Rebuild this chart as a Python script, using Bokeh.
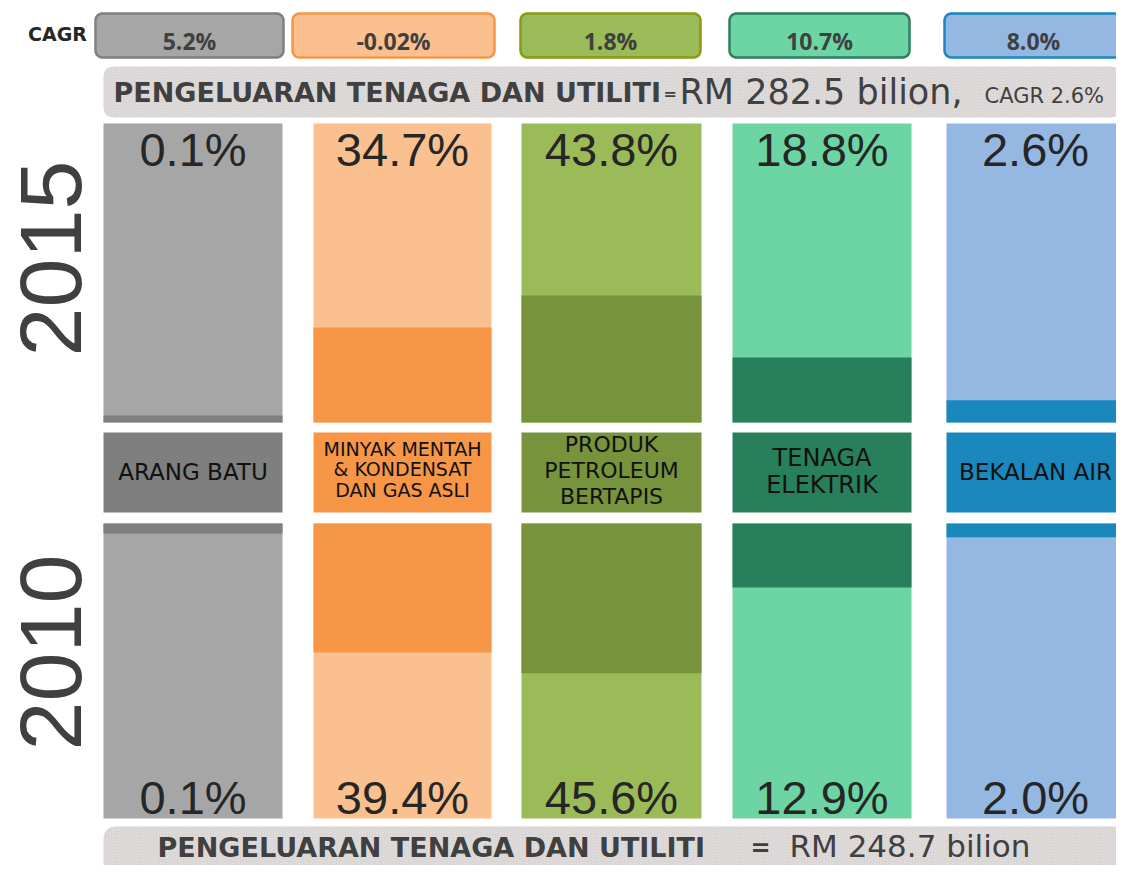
import numpy as np
from bokeh.plotting import figure
from bokeh.models import Range1d
from bokeh.core.properties import value
from bokeh.embed import file_html
from bokeh.resources import INLINE

# ---------------- data ----------------
categories = ["ARANG BATU", "MINYAK MENTAH\n& KONDENSAT\nDAN GAS ASLI",
              "PRODUK\nPETROLEUM\nBERTAPIS", "TENAGA\nELEKTRIK", "BEKALAN AIR"]
cagr = ["5.2%", "-0.02%", "1.8%", "10.7%", "8.0%"]
share_2015 = [0.1, 34.7, 43.8, 18.8, 2.6]
share_2010 = [0.1, 39.4, 45.6, 12.9, 2.0]
# dark-coloured portion of each bar, % of bar height as drawn in the picture
dark_2015 = [2.3, 31.8, 42.5, 21.7, 7.4]
dark_2010 = [3.4, 43.7, 50.8, 21.7, 4.7]
total_2015 = 282.5
total_2010 = 248.7
cagr_total = "2.6%"
years = ["2015", "2010"]
banner_label = "PENGELUARAN TENAGA DAN UTILITI"

# ---------------- styles / layout ----------------
light = ["#a6a6a6", "#fac090", "#9bbb59", "#6dd5a4", "#95b8e3"]
dark = ["#7f7f7f", "#f79646", "#77933c", "#287f5b", "#1a87bd"]
box_border = ["#7f7f7f", "#f79646", "#8a9a12", "#2d7f5c", "#1a86bf"]
left = [103, 313, 521, 732, 946]
right = [282, 491, 701, 911, 1124]
cagr_left = [95, 292, 520, 729, 944]
cagr_right = [283, 494, 700, 909, 1122]
cat_sizes = ["23px", "19px", "22px", "24px", "23px"]
cat_line_h = [1.1, 0.95, 1.05, 0.98, 1.1]
cat_y = [471, 469, 470, 471, 471]

TOP15, BOT15 = 123, 422
TOP10, BOT10 = 523, 818
CAT_TOP, CAT_BOT = 432, 512

p = figure(width=1116, height=865, x_range=Range1d(0, 1116), y_range=Range1d(865, 0),
           output_backend="svg", toolbar_location=None,
           x_axis_type=None, y_axis_type=None)
p.min_border = 0
p.min_border_left = p.min_border_right = p.min_border_top = p.min_border_bottom = 0
p.grid.visible = False
p.outline_line_color = None
p.background_fill_color = "white"
p.border_fill_color = "white"

DV = value("DejaVu Sans")


def rrect(x0, y0, x1, y1, r, n=10):
    xs, ys = [], []
    corners = [(x1 - r, y0 + r, -np.pi / 2, 0), (x1 - r, y1 - r, 0, np.pi / 2),
               (x0 + r, y1 - r, np.pi / 2, np.pi), (x0 + r, y0 + r, np.pi, 1.5 * np.pi)]
    for cx, cy, a0, a1 in corners:
        t = np.linspace(a0, a1, n)
        xs.extend(cx + r * np.cos(t))
        ys.extend(cy + r * np.sin(t))
    return list(xs), list(ys)


# ---- CAGR boxes ----
bx, by = [], []
for i in range(5):
    xx, yy = rrect(cagr_left[i], 13, cagr_right[i], 57, 7)
    bx.append(xx)
    by.append(yy)
p.patches(bx, by, fill_color=light, line_color=box_border, line_width=2.5)
cx = [(a + b) / 2 for a, b in zip(cagr_left, cagr_right)]
p.text(x=cx, y=[40] * 5, text=cagr, text_align="center", text_baseline="middle",
       text_font=value("Open Sans"), text_font_style="bold", text_font_size="23px",
       text_color="#404040")
p.text(x=[57], y=[33], text=["CAGR"], text_align="center", text_baseline="middle",
       text_font=DV, text_font_style="bold", text_font_size="19px",
       text_color="#262626")

# ---- banners ----
bxs, bys = [], []
xx, yy = rrect(103, 66, 1120, 117, 10)
bxs.append(xx); bys.append(yy)
xx, yy = rrect(103, 826, 1130, 900, 12)
bxs.append(xx); bys.append(yy)
p.patches(bxs, bys, fill_color="#d7d3d3", line_color=None,
          hatch_pattern="x", hatch_color="#e6e3e3", hatch_scale=3, hatch_weight=0.6)

p.text(x=[113], y=[92], text=[banner_label], text_align="left", text_baseline="middle",
       text_font=DV, text_font_style="bold", text_font_size="27px", text_color="#404040")
p.text(x=[663], y=[93], text=["="], text_align="left", text_baseline="middle",
       text_font=DV, text_font_style="bold", text_font_size="16px",
       text_color="#404040")
p.text(x=[679], y=[91], text=[f"RM {total_2015} bilion,"], text_align="left",
       text_baseline="middle", text_font=DV, text_font_size="35px",
       text_color="#404040")
p.text(x=[984], y=[95], text=[f"CAGR {cagr_total}"], text_align="left",
       text_baseline="middle", text_font=DV, text_font_size="21px",
       text_color="#404040")

p.text(x=[157], y=[847], text=[banner_label], text_align="left", text_baseline="middle",
       text_font=DV, text_font_style="bold", text_font_size="27px", text_color="#404040")
p.text(x=[750], y=[847], text=["="], text_align="left", text_baseline="middle",
       text_font=DV, text_font_style="bold", text_font_size="24px",
       text_color="#404040")
p.text(x=[789], y=[845], text=[f"RM {total_2010} bilion"], text_align="left",
       text_baseline="middle", text_font=DV, text_font_size="31px",
       text_color="#404040")

# ---- 2015 bars ----
h15 = BOT15 - TOP15
d15_top = [BOT15 - d / 100 * h15 for d in dark_2015]
p.quad(left=left, right=right, top=[TOP15] * 5, bottom=[BOT15] * 5,
       fill_color=light, line_color=None)
p.quad(left=left, right=right, top=d15_top, bottom=[BOT15] * 5,
       fill_color=dark, line_color=None)

# ---- 2010 bars ----
h10 = BOT10 - TOP10
d10_bot = [TOP10 + d / 100 * h10 for d in dark_2010]
p.quad(left=left, right=right, top=[TOP10] * 5, bottom=[BOT10] * 5,
       fill_color=light, line_color=None)
p.quad(left=left, right=right, top=[TOP10] * 5, bottom=d10_bot,
       fill_color=dark, line_color=None)

# ---- category boxes ----
p.quad(left=left, right=right, top=[CAT_TOP] * 5, bottom=[CAT_BOT] * 5,
       fill_color=dark, line_color=None)
mid = [(a + b) / 2 for a, b in zip(left, right)]
for i in range(5):
    p.text(x=[mid[i]], y=[cat_y[i]], text=[categories[i]], text_align="center",
           text_baseline="middle", text_font=DV, text_font_size=cat_sizes[i],
           text_line_height=cat_line_h[i], text_color="#111111")

# ---- share labels ----
p.text(x=mid, y=[149] * 5, text=[f"{v:.1f}%" for v in share_2015], text_align="center",
       text_baseline="middle", text_font=value("Liberation Sans"), text_font_size="47px",
       text_color="#262626")
p.text(x=mid, y=[797] * 5, text=[f"{v:.1f}%" for v in share_2010], text_align="center",
       text_baseline="middle", text_font=value("Liberation Sans"), text_font_size="47px",
       text_color="#262626")

# ---- year labels ----
p.text(x=[50, 50], y=[258, 652], text=years, angle=np.pi / 2, text_align="center",
       text_baseline="middle", text_font=value("Liberation Sans"), text_font_size="88px",
       text_color="#404040")

open("out.html", "w").write(file_html(p, INLINE))
